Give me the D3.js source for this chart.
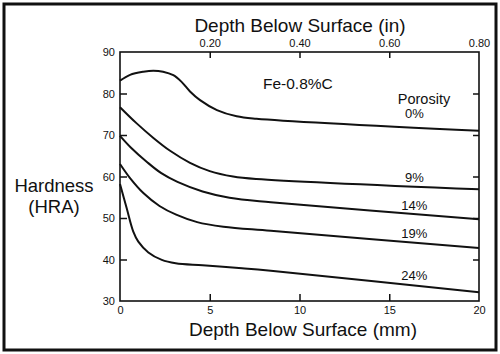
<!DOCTYPE html>
<html>
<head>
<meta charset="utf-8">
<script src="https://cdn.jsdelivr.net/npm/d3@7"></script>
<style>
  body { margin: 0; background: #fff; }
  svg text { font-family: "Liberation Sans", Arial, Helvetica, sans-serif; fill: #111; }
</style>
</head>
<body>
<div id="chart"></div>
<script>
// hardness (HRA) vs depth below surface (mm)
const por0  = [[0, 83.1], [0.56, 84.5], [1.3, 85.25], [1.86, 85.5], [2.4, 85.25], [2.97, 84.4], [3.43, 82.8], [3.9, 80.5], [4.46, 78.4], [5.4, 76.0], [6.5, 74.5], [7.6, 73.9], [20, 71.0]];
const por9  = [[0, 76.7], [0.93, 72.8], [1.86, 69.3], [2.79, 66.2], [3.9, 63.3], [5.0, 61.3], [6.3, 60.0], [7.6, 59.4], [20, 56.9]];
const por14 = [[0, 69.8], [0.6, 67.0], [1.5, 63.5], [2.3, 60.8], [3.2, 58.7], [4.6, 56.4], [6.1, 54.9], [8.4, 53.8], [20, 49.7]];
const por19 = [[0, 63.0], [0.56, 59.6], [1.3, 56.0], [2.2, 52.9], [3.13, 50.8], [4.3, 49.0], [5.76, 47.9], [8.4, 46.9], [20, 42.8]];
const por24 = [[0, 58.2], [0.37, 52.4], [0.74, 46.7], [1.02, 44.3], [1.58, 41.7], [2.33, 39.9], [3.1, 39.1], [4.6, 38.6], [6.8, 37.9], [8.4, 37.3], [20, 32.1]];

const porosityLabels = ["0%", "9%", "14%", "19%", "24%"];
const labelAt = [[16.4, 74.0], [16.4, 58.6], [16.4, 51.9], [16.4, 45.3], [16.4, 35.0]];

const mmTicks = [0, 5, 10, 15, 20];
const inTicks = [0.20, 0.40, 0.60, 0.80];
const hraTicks = [30, 40, 50, 60, 70, 80, 90];

const width = 500, height = 354;
const svg = d3.select("#chart").append("svg")
    .attr("width", width)
    .attr("height", height);

// outer frame
svg.append("rect")
    .attr("x", 4).attr("y", 4)
    .attr("width", 492).attr("height", 346)
    .attr("fill", "none")
    .attr("stroke", "#111")
    .attr("stroke-width", 3);

const x = d3.scaleLinear().domain([0, 20]).range([120, 479]);
const xIn = d3.scaleLinear().domain([0, 0.8]).range([120, 479]);
const y = d3.scaleLinear().domain([30, 90]).range([301, 52]);

function styleAxis(g) {
  g.select(".domain").remove();
  g.selectAll("line").attr("stroke", "#111").attr("stroke-width", 1.5);
  g.selectAll("text").style("font-size", "11px").attr("fill", "#111");
}

// left axis: labels outside, ticks inward
svg.append("g")
    .attr("transform", "translate(120,0)")
    .call(d3.axisLeft(y).tickValues(hraTicks).tickSize(0).tickPadding(5))
    .call(styleAxis);
svg.append("g")
    .attr("transform", "translate(120,0)")
    .call(d3.axisRight(y).tickValues([40, 50, 60, 70, 80]).tickSize(7).tickFormat(""))
    .call(styleAxis);

// right axis ticks inward
svg.append("g")
    .attr("transform", "translate(479,0)")
    .call(d3.axisLeft(y).tickValues([40, 50, 60, 70, 80]).tickSize(6).tickFormat(""))
    .call(styleAxis);

// bottom axis
svg.append("g")
    .attr("transform", "translate(0,301)")
    .call(d3.axisBottom(x).tickValues(mmTicks).tickSize(0).tickPadding(5))
    .call(styleAxis);
svg.append("g")
    .attr("transform", "translate(0,301)")
    .call(d3.axisTop(x).tickValues([5, 10, 15]).tickSize(7).tickFormat(""))
    .call(styleAxis);

// top axis (inches)
svg.append("g")
    .attr("transform", "translate(0,52)")
    .call(d3.axisTop(xIn).tickValues(inTicks).tickSize(0).tickPadding(5).tickFormat(d3.format(".2f")))
    .call(styleAxis);
svg.append("g")
    .attr("transform", "translate(0,52)")
    .call(d3.axisBottom(xIn).tickValues([0.20, 0.40, 0.60]).tickSize(6).tickFormat(""))
    .call(styleAxis);

// plot frame
svg.append("rect")
    .attr("x", x(0)).attr("y", y(90))
    .attr("width", x(20) - x(0)).attr("height", y(30) - y(90))
    .attr("fill", "none")
    .attr("stroke", "#111")
    .attr("stroke-width", 1.6);

const line = d3.line()
    .x(d => x(d[0]))
    .y(d => y(d[1]))
    .curve(d3.curveCatmullRom.alpha(0.5));

svg.append("g")
  .selectAll("path")
  .data([por0, por9, por14, por19, por24])
  .enter().append("path")
    .attr("d", line)
    .attr("fill", "none")
    .attr("stroke", "#111")
    .attr("stroke-width", 2);

svg.append("g")
  .selectAll("text")
  .data(porosityLabels)
  .enter().append("text")
    .attr("x", (d, i) => x(labelAt[i][0]))
    .attr("y", (d, i) => y(labelAt[i][1]))
    .attr("text-anchor", "middle")
    .style("font-size", "13px")
    .text(d => d);

svg.append("text")
    .attr("x", 424).attr("y", 104)
    .attr("text-anchor", "middle")
    .style("font-size", "14.5px")
    .text("Porosity");

svg.append("text")
    .attr("x", 263).attr("y", 89)
    .style("font-size", "15.5px")
    .text("Fe-0.8%C");

svg.append("text")
    .attr("x", 300).attr("y", 31.5)
    .attr("text-anchor", "middle")
    .style("font-size", "19px")
    .text("Depth Below Surface (in)");

svg.append("text")
    .attr("x", 303).attr("y", 335.5)
    .attr("text-anchor", "middle")
    .style("font-size", "19px")
    .text("Depth Below Surface (mm)");

svg.append("text")
    .attr("x", 54).attr("y", 191.5)
    .attr("text-anchor", "middle")
    .style("font-size", "18.5px")
    .text("Hardness");

svg.append("text")
    .attr("x", 54).attr("y", 213)
    .attr("text-anchor", "middle")
    .style("font-size", "18.5px")
    .text("(HRA)");
</script>
</body>
</html>
